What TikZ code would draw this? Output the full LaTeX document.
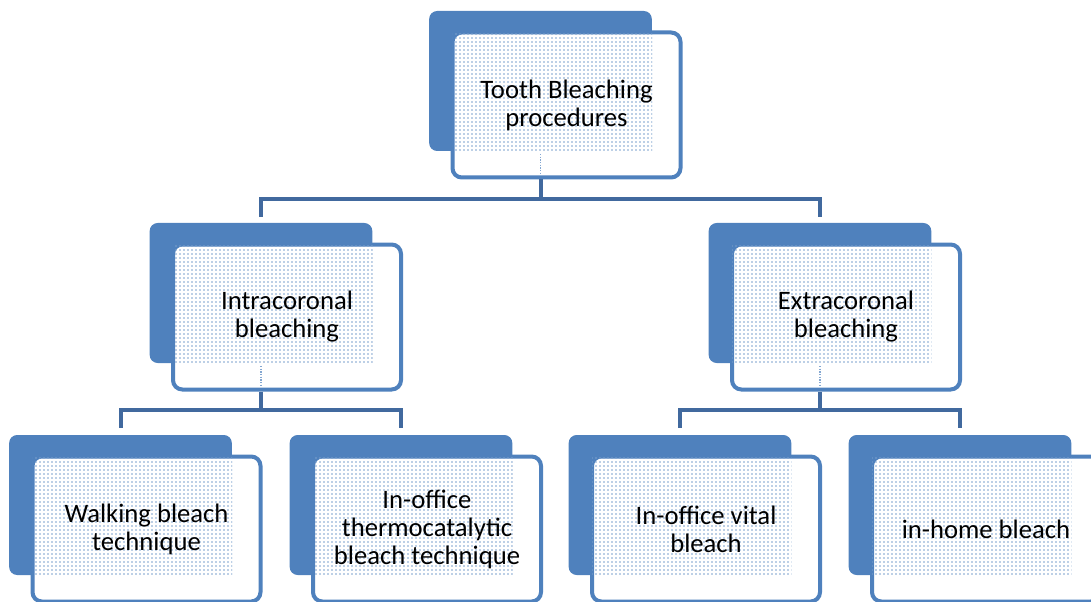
\documentclass[tikz,border=0pt]{standalone}
\usepackage{fontspec}
\setmainfont{Carlito}
\usetikzlibrary{patterns.meta}
\definecolor{boxblue}{HTML}{4F81BD}
\definecolor{linkblue}{HTML}{41699E}
\begin{document}
\begin{tikzpicture}[x=0.75pt,y=-0.75pt,
  back/.style={fill=boxblue,rounded corners=6pt,minimum width=167pt,minimum height=105pt,inner sep=0pt},
  front/.style={draw=boxblue,line width=3pt,fill=white,rounded corners=7pt,minimum width=171pt,minimum height=108.75pt,inner sep=0pt},
  dotfill/.style={pattern={Dots[radius=0.6pt,distance=3pt]},pattern color=boxblue!75},
  txt/.style={font=\fontsize{20}{21}\selectfont,align=center},
  link/.style={draw=linkblue,line width=3pt},
  seam/.style={boxblue!70,densely dotted,line width=1pt}]
\useasboundingbox (0,0) rectangle (1091,602);
\foreach \n/\x/\y/\t in {top/540.5/81/{Tooth Bleaching\\procedures},
    intra/261/293/{Intracoronal\\bleaching},
    extra/820/293/{Extracoronal\\bleaching},
    walk/120.5/505/{Walking bleach\\technique},
    thermo/401/505/{In-office\\thermocatalytic\\bleach technique},
    vital/680/505/{In-office vital\\bleach},
    home/960/505/{in-home bleach}}{
  \node[back] (\n) at (\x,\y) {};
  \node[front] (\n-f) at (\x+26,\y+24) {};
  \fill[dotfill] ([shift={(1.5pt,-1.5pt)}]\n-f.north west) rectangle (\n.south east);
  \node[txt] (\n-t) at (\n-f) {\t};
}
\foreach \n in {top,intra,extra}
  \draw[seam] ([yshift=-2pt]\n.south) -- ([yshift=5pt]\n-f.south -| \n);
\coordinate (topbus) at (540.5,199);
\coordinate (leftbus) at (261,410);
\coordinate (rightbus) at (820,410);
\draw[link] (top-f.south -| top) -- (topbus) -| ([yshift=4.5pt]intra.north);
\draw[link] (topbus) -| ([yshift=4.5pt]extra.north);
\draw[link] (intra-f.south -| intra) -- (leftbus) -| ([yshift=5pt]walk.north);
\draw[link] (leftbus) -| ([yshift=5pt]thermo.north);
\draw[link] (extra-f.south -| extra) -- (rightbus) -| ([yshift=5pt]vital.north);
\draw[link] (rightbus) -| ([yshift=5pt]home.north);
\end{tikzpicture}
\end{document}
